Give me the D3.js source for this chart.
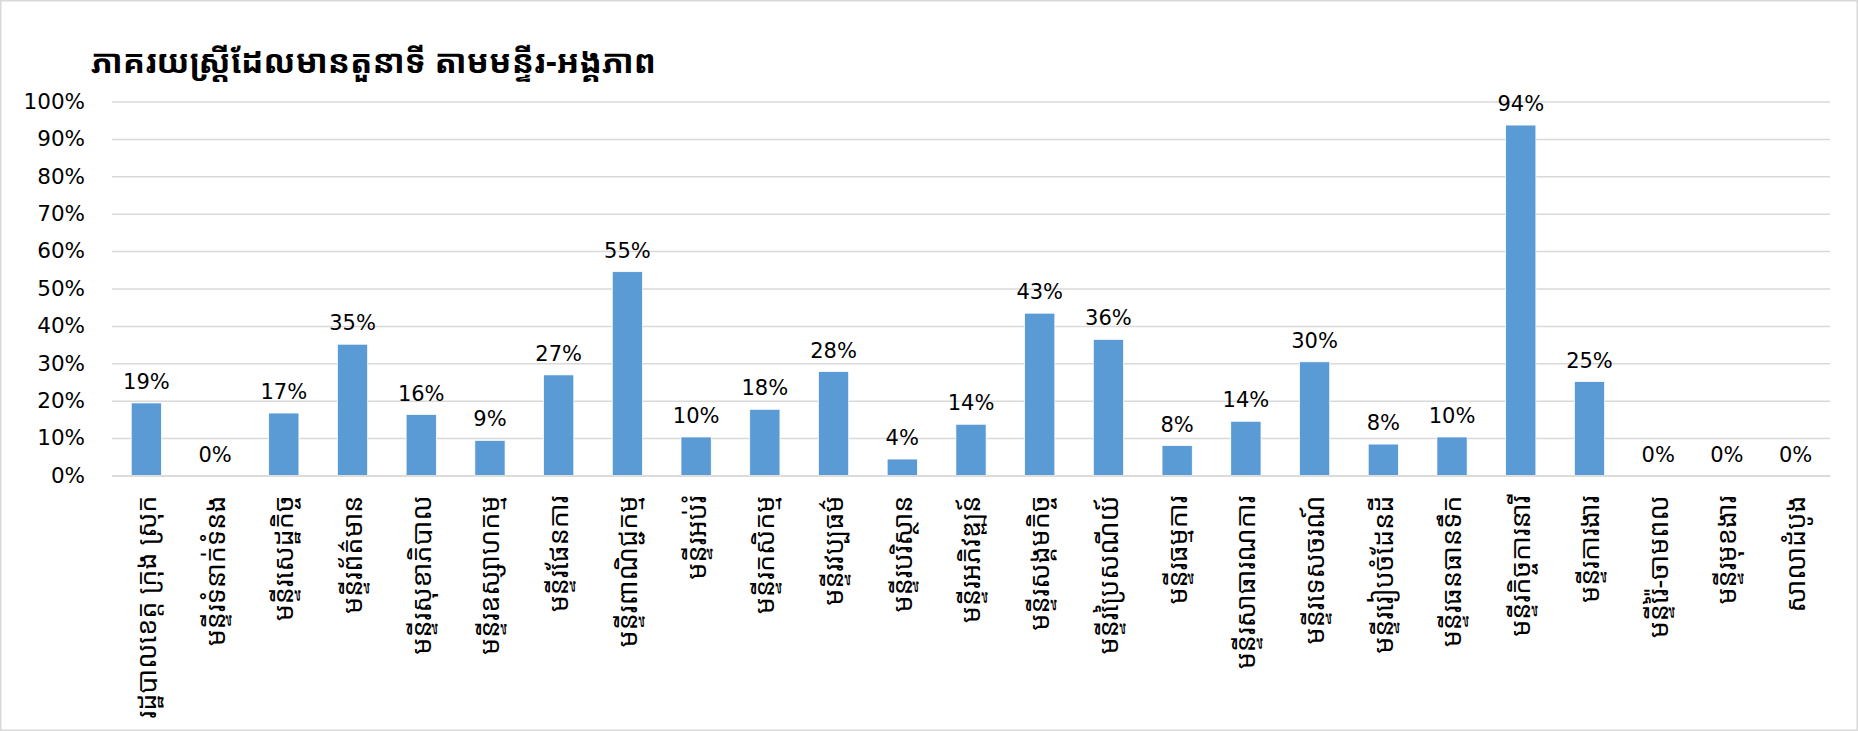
<!DOCTYPE html>
<html>
<head>
<meta charset="utf-8">
<script src="https://cdn.jsdelivr.net/npm/d3@7"></script>
<style>
  html, body { margin: 0; padding: 0; background: #fff; }
  svg { display: block; }
  .khmer { font-family: "Khmer OS Siemreap", "Noto Sans Khmer", "Khmer OS", "Noto Sans", "DejaVu Sans", sans-serif; }
  .num { font-family: "DejaVu Sans", Verdana, sans-serif; }
</style>
</head>
<body>
<svg id="chart" width="1858" height="731"></svg>
<script>
const title = "ភាគរយស្ត្រីដែលមានតួនាទី តាមមន្ទីរ-អង្គភាព";

const categories = [
  "រដ្ឋបាលខេត្ត ក្រុង ស្រុក",
  "មន្ទីរទំនាក់ទំនង",
  "មន្ទីរសេដ្ឋកិច្ច",
  "មន្ទីរព័ត៌មាន",
  "មន្ទីរសុខាភិបាល",
  "មន្ទីរឧស្សាហកម្ម",
  "មន្ទីរផែនការ",
  "មន្ទីរពាណិជ្ជកម្ម",
  "មន្ទីរអប់រំ",
  "មន្ទីរកសិកម្ម",
  "មន្ទីរវប្បធម៌",
  "មន្ទីរបរិស្ថាន",
  "មន្ទីរអភិវឌ្ឍន៍",
  "មន្ទីរសង្គមកិច្ច",
  "មន្ទីរប្រៃសណីយ៍",
  "មន្ទីរធម្មការ",
  "មន្ទីរសាធារណការ",
  "មន្ទីរទេសចរណ៍",
  "មន្ទីររៀបចំដែនដី",
  "មន្ទីរធនធានទឹក",
  "មន្ទីរកិច្ចការនារី",
  "មន្ទីរការងារ",
  "មន្ទីរ៉ៃ-ចាមពល",
  "មន្ទីរមុខងារ",
  "សាលាដំបូង"
];

const values = [0.194, 0, 0.167, 0.351, 0.163, 0.094, 0.269, 0.545, 0.103, 0.177,
                0.278, 0.044, 0.137, 0.434, 0.364, 0.080, 0.145, 0.304, 0.084, 0.103,
                0.937, 0.251, 0, 0, 0];

const yTicks = [0, 0.1, 0.2, 0.3, 0.4, 0.5, 0.6, 0.7, 0.8, 0.9, 1.0];

const data = categories.map((c, i) => ({ cat: c, val: values[i] }));

const W = 1858, H = 731;
const plot = { left: 112, right: 1830, top: 101.5, bottom: 475.5 };

const svg = d3.select("#chart");

// outer border
svg.append("rect")
  .attr("x", 0.75).attr("y", 0.75)
  .attr("width", W - 1.5).attr("height", H - 1.5)
  .attr("fill", "#fff").attr("stroke", "#d9d9d9").attr("stroke-width", 1.5);

// title
svg.append("text")
  .attr("class", "khmer")
  .attr("x", 91).attr("y", 73)
  .attr("font-size", 33).attr("font-weight", "bold")
  .attr("fill", "#000")
  .text(title);

const x = d3.scaleBand()
  .domain(categories)
  .range([plot.left, plot.right])
  .paddingInner(0.56).paddingOuter(0.28);

const y = d3.scaleLinear().domain([0, 1]).range([plot.bottom, plot.top]);

// y axis with gridlines
const yAxis = d3.axisLeft(y)
  .tickValues(yTicks)
  .tickFormat(d3.format(".0%"))
  .tickSize(-(plot.right - plot.left))
  .tickPadding(27);

const gy = svg.append("g")
  .attr("transform", `translate(${plot.left},0)`)
  .call(yAxis);
gy.select(".domain").remove();
gy.selectAll(".tick line").attr("stroke", "#d9d9d9").attr("stroke-width", 1.5);
gy.selectAll(".tick text")
  .attr("class", "num")
  .attr("font-size", 21.5)
  .attr("fill", "#000");

// bars
svg.append("g").selectAll("rect")
  .data(data)
  .join("rect")
  .attr("x", d => x(d.cat))
  .attr("y", d => y(d.val))
  .attr("width", x.bandwidth())
  .attr("height", d => y(0) - y(d.val))
  .attr("fill", "#5b9bd5")
  .attr("stroke", "#ffffff")
  .attr("stroke-width", 0.75);

// x axis
const xAxis = d3.axisBottom(x).tickSize(0).tickPadding(0);
const gx = svg.append("g")
  .attr("transform", `translate(0,${plot.bottom})`)
  .call(xAxis);
gx.select(".domain").attr("stroke", "#d9d9d9").attr("stroke-width", 1.5);
gx.selectAll(".tick text")
  .attr("class", "khmer")
  .attr("font-size", 27)
  .attr("fill", "#000")
  .attr("text-anchor", "end")
  .attr("dy", "0.35em")
  .attr("transform", "translate(0,20) rotate(-90)");

// data labels
svg.append("g").selectAll("text")
  .data(data)
  .join("text")
  .attr("class", "num")
  .attr("x", d => x(d.cat) + x.bandwidth() / 2)
  .attr("y", d => y(d.val) - 14)
  .attr("text-anchor", "middle")
  .attr("font-size", 21)
  .attr("fill", "#000")
  .text(d => d3.format(".0%")(d.val));
</script>
</body>
</html>
